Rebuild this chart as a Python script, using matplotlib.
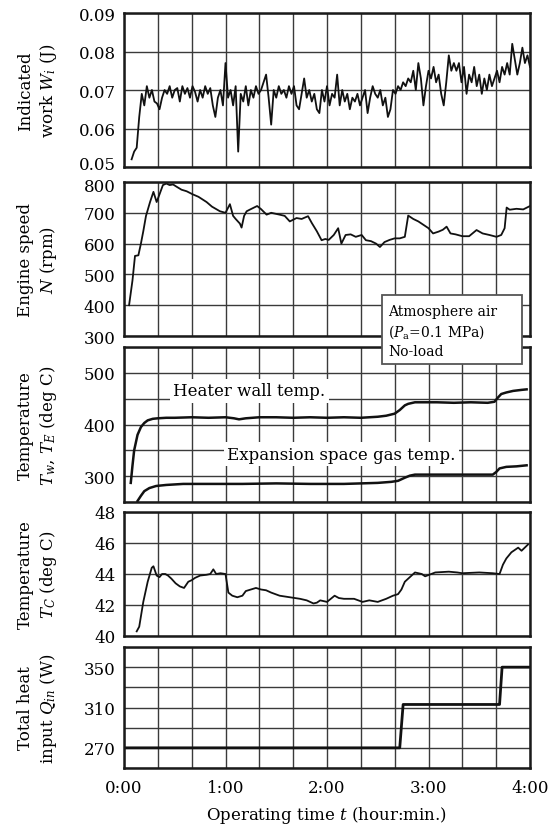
import numpy as np
import matplotlib
matplotlib.use("Agg")
import matplotlib.pyplot as plt
from matplotlib.patches import Rectangle
from matplotlib.transforms import ScaledTranslation

plt.rcParams['font.family'] = ['DejaVu Serif']
plt.rcParams['mathtext.fontset'] = 'dejavuserif'

# ---------------- data ----------------
# Panel 1: indicated work (J), sampled evenly from t=4.5 to 240 min
wi_values = [0.052, 0.054, 0.055, 0.063, 0.069, 0.066, 0.071, 0.068, 0.070, 0.067,
             0.0665, 0.065, 0.068, 0.070, 0.069, 0.071, 0.068, 0.070, 0.0705, 0.067,
             0.071, 0.069, 0.0705, 0.068, 0.071, 0.0695, 0.067, 0.070, 0.068, 0.071,
             0.069, 0.0705, 0.066, 0.063, 0.068, 0.070, 0.066, 0.077, 0.068, 0.070,
             0.066, 0.071, 0.054, 0.069, 0.067, 0.071, 0.066, 0.070, 0.068, 0.071,
             0.069, 0.070, 0.072, 0.074, 0.068, 0.061, 0.070, 0.068, 0.071, 0.069,
             0.070, 0.068, 0.071, 0.069, 0.071, 0.066, 0.065, 0.069, 0.073, 0.068,
             0.070, 0.067, 0.069, 0.065, 0.064, 0.070, 0.067, 0.071, 0.066, 0.069,
             0.068, 0.074, 0.066, 0.070, 0.067, 0.069, 0.065, 0.068, 0.067, 0.069,
             0.066, 0.068, 0.070, 0.064, 0.068, 0.071, 0.069, 0.068, 0.070, 0.066,
             0.068, 0.063, 0.065, 0.070, 0.069, 0.071, 0.070, 0.072, 0.071, 0.073,
             0.072, 0.075, 0.070, 0.077, 0.073, 0.066, 0.071, 0.075, 0.073, 0.076,
             0.072, 0.074, 0.069, 0.066, 0.072, 0.079, 0.075, 0.077, 0.075, 0.077,
             0.072, 0.076, 0.069, 0.074, 0.072, 0.076, 0.071, 0.074, 0.069, 0.073,
             0.070, 0.074, 0.071, 0.073, 0.075, 0.072, 0.076, 0.074, 0.077, 0.074,
             0.082, 0.078, 0.074, 0.077, 0.081, 0.077, 0.079, 0.076]
wi_time = np.linspace(4.5, 240, len(wi_values))

# Panel 2: engine speed (rpm)
n_time = [3, 5, 6.5, 8.5, 10, 11.4, 13, 15.4, 17.4, 19.3, 21, 23, 25, 27, 29, 31, 34, 37,
          40.6, 44, 48.8, 52, 56.7, 60, 62.6, 64.5, 66, 68.5, 69.5, 71, 72.5, 75, 78.7,
          81, 84.3, 87, 92, 95, 98, 102, 105, 108.8, 111, 114, 116.8, 119, 121, 124,
          126.6, 128.5, 131, 134, 137, 140.5, 143, 146, 149, 151.3, 154, 157, 160, 163,
          166, 168, 171, 174, 177, 180, 182.7, 186, 188.5, 190.7, 193, 196, 200, 204,
          208.4, 212, 216, 220.2, 223, 225, 226.2, 228, 232, 236, 240]
n_values = [400, 480, 560, 562, 600, 640, 690, 735, 768, 735, 760, 790, 795, 790, 792,
            785, 775, 770, 760, 752, 735, 720, 705, 700, 728, 690, 680, 665, 652, 690,
            705, 712, 722, 712, 694, 700, 694, 690, 672, 683, 680, 689, 667, 640, 611,
            615, 612, 628, 650, 600, 628, 630, 622, 628, 611, 608, 600, 589, 605, 612,
            617, 617, 622, 691, 680, 672, 661, 650, 633, 639, 645, 655, 633, 630, 624,
            624, 644, 633, 628, 622, 628, 650, 717, 710, 713, 711, 722]

# Panel 3: heater wall temperature and expansion space gas temperature (deg C)
tw_time = [4, 5, 6, 8, 10, 12, 14, 17, 20, 25, 30, 40, 50, 60, 65, 68, 72, 80, 90, 100,
           110, 120, 130, 140, 150, 155, 160, 163, 166, 168, 172, 176, 185, 195, 205,
           215, 219, 221, 223, 226, 230, 235, 238]
tw_values = [287, 320, 350, 380, 395, 403, 408, 411, 412, 413, 413, 414, 413, 414, 412,
             410, 412, 414, 414, 413, 414, 413, 414, 413, 415, 417, 421, 428, 437, 440,
             443, 443, 443, 442, 443, 442, 444, 452, 459, 462, 465, 467, 468]
te_time = [8, 10, 12, 15, 19, 25, 35, 50, 70, 90, 110, 130, 150, 158, 162, 166, 169, 172,
           180, 200, 218, 220, 222, 226, 232, 238]
te_values = [252, 262, 271, 277, 281, 283, 285, 285, 285, 286, 285, 285, 287, 289, 291,
             297, 301, 303, 303, 303, 303, 308, 315, 318, 319, 321]

# Panel 4: compression temperature (deg C)
tc_time = [7.5, 9, 11.4, 14, 16.4, 17.4, 19.3, 21, 22.5, 24.4, 26, 28, 30.5, 33, 35.5, 38,
           40, 42, 45, 48.8, 51, 52.8, 54.5, 57, 60, 61.7, 64, 67, 70, 72, 75, 78, 81, 84,
           87, 92, 98, 104, 108, 112, 114, 116, 120, 124.5, 127, 130, 136, 141, 145, 150,
           155, 159, 162, 164, 166, 169, 172, 176, 178, 184, 192, 197, 200, 210, 218, 222,
           224, 226, 229, 233, 235, 238.8]
tc_values = [40.3, 40.6, 42.2, 43.5, 44.4, 44.5, 43.9, 43.8, 44.0, 44.0, 43.9, 43.7, 43.4,
             43.2, 43.1, 43.5, 43.6, 43.75, 43.9, 43.95, 44.0, 44.3, 44.0, 44.05, 44.0,
             42.8, 42.6, 42.5, 42.6, 42.9, 43.0, 43.1, 43.0, 42.95, 42.8, 42.6, 42.5, 42.4,
             42.3, 42.1, 42.15, 42.3, 42.2, 42.6, 42.45, 42.4, 42.4, 42.2, 42.3, 42.2, 42.4,
             42.6, 42.7, 43.0, 43.5, 43.8, 44.1, 44.0, 43.85, 44.1, 44.15, 44.1, 44.05,
             44.1, 44.05, 44.0, 44.6, 45.0, 45.4, 45.7, 45.5, 45.9]

# Panel 5: total heat input (W)
q_time = [0, 163, 165, 222, 223.5, 240]
q_values = [270, 270, 313, 313, 350, 350]

x_ticks = [0, 60, 120, 180, 240]
x_ticklabels = ["0:00", "1:00", "2:00", "3:00", "4:00"]

ylabels = ["Indicated\nwork $W_i$ (J)",
           "Engine speed\n$N$ (rpm)",
           "Temperature\n$T_w$, $T_E$ (deg C)",
           "Temperature\n$T_C$ (deg C)",
           "Total heat\ninput $Q_{in}$ (W)"]

# ---------------- figure ----------------
FW, FH = 555, 828
fig = plt.figure(figsize=(FW / 100, FH / 100), dpi=100)
L, R = 124, 530
panels = [(14, 168), (183, 337), (348, 503), (513, 637), (648, 769)]
axes = []
for top, bot in panels:
    ax = fig.add_axes([L / FW, 1 - bot / FH, (R - L) / FW, (bot - top) / FH])
    axes.append(ax)

ylims = [(0.05, 0.09), (300, 800), (250, 550), (40, 48), (250, 370)]
ygrid = [np.arange(0.05, 0.0901, 0.01), np.arange(300, 801, 100), np.arange(250, 551, 50),
         np.arange(40, 48.1, 2), np.arange(250, 371, 20)]
ytl = [["0.05", "0.06", "0.07", "0.08", "0.09"],
       ["300", "400", "500", "600", "700", "800"],
       ["", "300", "", "400", "", "500", ""],
       ["40", "42", "44", "46", "48"],
       ["", "270", "", "310", "", "350", ""]]

for i, ax in enumerate(axes):
    ax.set_xlim(0, 240)
    ax.set_ylim(*ylims[i])
    ax.set_xticks(np.arange(0, 241, 20))
    ax.set_yticks(ygrid[i])
    ax.set_yticklabels(ytl[i])
    ax.grid(True, color='#3a3a3a', lw=1.0)
    ax.set_axisbelow(True)
    ax.tick_params(length=0, labelsize=12, pad=6)
    for s in ax.spines.values():
        s.set_linewidth(1.8)
        s.set_color('#1a1a1a')
    if i < 4:
        ax.set_xticklabels([])
    else:
        lbls = [x_ticklabels[x_ticks.index(t)] if t in x_ticks else "" for t in range(0, 241, 20)]
        ax.set_xticklabels(lbls)
        ax.tick_params(axis='x', pad=8)
    top, bot = panels[i]
    fig.text(38 / FW, 1 - (top + bot) / 2 / FH, ylabels[i], rotation=90, ha='center',
             va='center', multialignment='center', fontsize=12, linespacing=1.3)

# nudge crowded labels at the panel 1 / panel 2 junction
lab = axes[0].get_yticklabels()[0]
lab.set_transform(lab.get_transform() + ScaledTranslation(0, 5 / 100, fig.dpi_scale_trans))
lab = axes[1].get_yticklabels()[-1]
lab.set_transform(lab.get_transform() + ScaledTranslation(0, -3 / 100, fig.dpi_scale_trans))

lc = '#111111'
axes[0].plot(wi_time, wi_values, color=lc, lw=1.3)
axes[1].plot(n_time, n_values, color=lc, lw=1.3)
axes[2].plot(tw_time, tw_values, color=lc, lw=1.8)
axes[2].plot(te_time, te_values, color=lc, lw=1.8)
axes[3].plot(tc_time, tc_values, color=lc, lw=1.3)
axes[4].plot(q_time, q_values, color=lc, lw=2.0)

axes[2].text(29, 465, "Heater wall temp.", fontsize=12, va='center', ha='left',
             bbox=dict(facecolor='white', edgecolor='none', pad=2.5))
axes[2].text(61, 342, "Expansion space gas temp.", fontsize=12, va='center', ha='left',
             bbox=dict(facecolor='white', edgecolor='none', pad=2.5))

axes[4].set_xlabel("Operating time $t$ (hour:min.)", fontsize=12, labelpad=6)

# annotation box
rect = Rectangle((382 / FW, 1 - 365 / FH), 140 / FW, 69 / FH, transform=fig.transFigure,
                 facecolor='white', edgecolor='#555555', lw=1.3, zorder=5)
fig.patches.append(rect)
for yy, s in zip([312, 332, 352], ["Atmosphere air", "($P_{\\rm a}$=0.1 MPa)", "No-load"]):
    fig.text(388 / FW, 1 - yy / FH, s, fontsize=10, ha='left', va='center', zorder=6)

fig.savefig("out.png", dpi=100)
